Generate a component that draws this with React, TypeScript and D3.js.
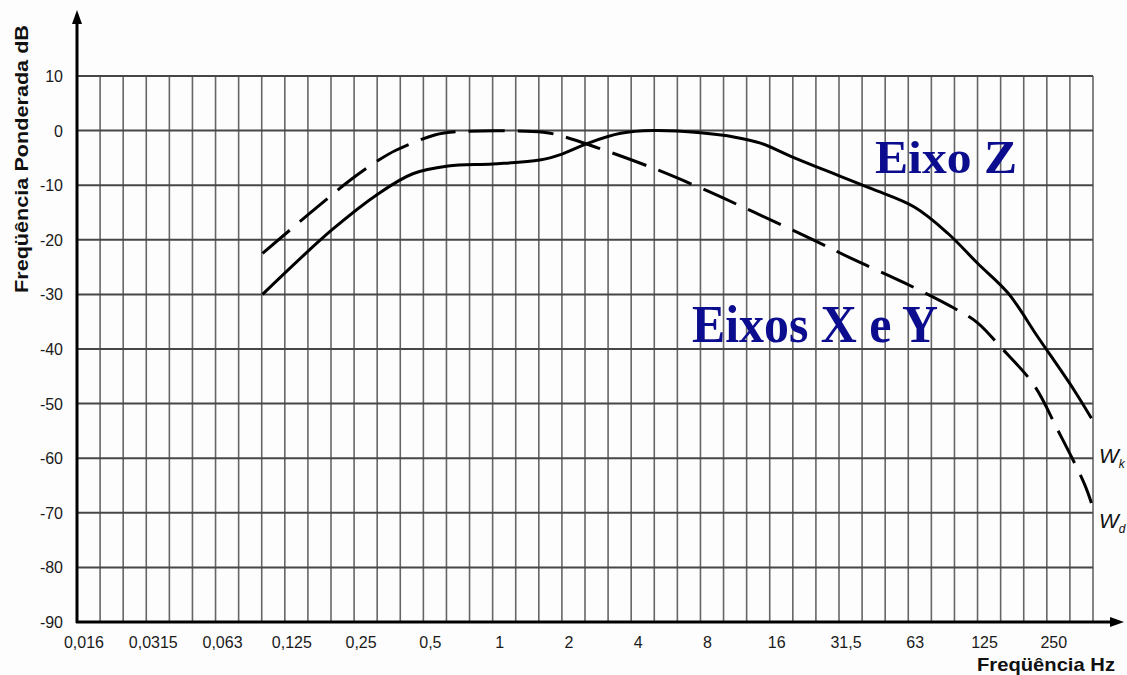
import React, { useRef, useEffect } from 'react';
import * as d3 from 'd3';

// x axis: third-octave grid, labels at each octave
const freqTicks = [1 / 64, 1 / 32, 1 / 16, 1 / 8, 1 / 4, 1 / 2, 1, 2, 4, 8, 16, 32, 64, 128, 256];
const freqTickLabels = ['0,016', '0,0315', '0,063', '0,125', '0,25', '0,5', '1', '2', '4', '8', '16', '31,5', '63', '125', '250'];
const dbTicks = [10, 0, -10, -20, -30, -40, -50, -60, -70, -80, -90];

// Wk (Eixo Z), solid
const wkFreq = [0.1, 0.2, 0.32, 0.45, 0.64, 1, 1.6, 2, 2.6, 3.6, 5, 8, 11.3, 14.6, 20, 28, 44, 68, 95, 128, 174, 234, 336, 400];
const wkDb = [-30, -18.2, -11.5, -7.9, -6.5, -6.1, -5.4, -4.3, -2.3, -0.5, 0, -0.4, -1.2, -2.3, -4.8, -7.3, -10.6, -14, -18.8, -24.3, -29.8, -37.8, -47.5, -52.7];

// Wd (Eixos X e Y), dashed
const wdFreq = [0.1, 0.24, 0.32, 0.38, 0.56, 0.7, 1.66, 2, 2.88, 4.86, 8, 13.6, 25, 37, 61, 101, 128, 161, 225, 286, 372, 400];
const wdDb = [-22.5, -9.1, -5.4, -3.6, -0.8, -0.2, -0.3, -1.0, -3.2, -6.7, -10.5, -14.9, -20.1, -23.6, -27.8, -32.5, -35.2, -39.6, -46.6, -54.9, -64.6, -68.2];

const App = () => {
  const ref = useRef(null);

  useEffect(() => {
    const svg = d3.select(ref.current);
    svg.selectAll('*').remove();

    const x = d3.scaleLog().base(2).domain([2 ** -6, 2 ** (26 / 3)]).range([77, 1093]);
    const y = d3.scaleLinear().domain([-90, 10]).range([622, 76]);

    svg.append('rect').attr('width', 1127).attr('height', 675).attr('fill', '#fdfdfd');

    // vertical grid, one line per third octave
    const thirds = d3.range(-17, 27).map(k => 2 ** (k / 3));
    svg.append('g')
      .selectAll('line')
      .data(thirds)
      .join('line')
      .attr('x1', d => x(d)).attr('x2', d => x(d))
      .attr('y1', y(10)).attr('y2', y(-90))
      .attr('stroke', '#666')
      .attr('stroke-width', 1.6);

    // horizontal grid
    svg.append('g')
      .selectAll('line')
      .data(dbTicks.filter(d => d > -90))
      .join('line')
      .attr('x1', x.range()[0]).attr('x2', x.range()[1])
      .attr('y1', d => y(d)).attr('y2', d => y(d))
      .attr('stroke', '#474747')
      .attr('stroke-width', 2);

    // curves
    const line = d3.line().x(d => x(d[0])).y(d => y(d[1])).curve(d3.curveCatmullRom.alpha(0.5));
    svg.append('path')
      .datum(wkFreq.map((f, i) => [f, wkDb[i]]))
      .attr('fill', 'none')
      .attr('stroke', '#000')
      .attr('stroke-width', 3)
      .attr('d', line);
    svg.append('path')
      .datum(wdFreq.map((f, i) => [f, wdDb[i]]))
      .attr('fill', 'none')
      .attr('stroke', '#000')
      .attr('stroke-width', 3)
      .attr('stroke-dasharray', '36,13')
      .attr('d', line);

    // axes with arrows
    const x0 = x.range()[0];
    const yb = y(-90);
    svg.append('line').attr('x1', x0).attr('x2', x0).attr('y1', yb + 1).attr('y2', 20)
      .attr('stroke', '#000').attr('stroke-width', 3);
    svg.append('path').attr('d', `M${x0 - 5},24 L${x0},10 L${x0 + 5},24 Z`).attr('fill', '#000');
    svg.append('line').attr('x1', x0 - 1).attr('x2', 1114).attr('y1', yb).attr('y2', yb)
      .attr('stroke', '#000').attr('stroke-width', 3);
    svg.append('path').attr('d', `M1110,${yb - 5} L1124,${yb} L1110,${yb + 5} Z`).attr('fill', '#000');

    // tick labels
    svg.append('g')
      .selectAll('text')
      .data(dbTicks)
      .join('text')
      .attr('x', 63)
      .attr('y', d => y(d) + 6)
      .attr('text-anchor', 'end')
      .style('font-family', 'Liberation Sans, Arial, sans-serif')
      .style('font-size', '16px')
      .attr('fill', '#1a1a1a')
      .text(d => d);

    svg.append('g')
      .selectAll('text')
      .data(freqTicks)
      .join('text')
      .attr('x', d => x(d) + 7)
      .attr('y', 648)
      .attr('text-anchor', 'middle')
      .style('font-family', 'Liberation Sans, Arial, sans-serif')
      .style('font-size', '16px')
      .attr('fill', '#1a1a1a')
      .text((d, i) => freqTickLabels[i]);

    // axis titles
    svg.append('text')
      .attr('transform', 'translate(28,159) rotate(-90)')
      .attr('text-anchor', 'middle')
      .attr('textLength', 268)
      .attr('lengthAdjust', 'spacingAndGlyphs')
      .style('font-family', 'Liberation Sans, Arial, sans-serif')
      .style('font-size', '19px')
      .style('font-weight', 'bold')
      .attr('fill', '#111')
      .text('Freqüência Ponderada dB');

    svg.append('text')
      .attr('x', 977)
      .attr('y', 671)
      .attr('textLength', 138)
      .attr('lengthAdjust', 'spacingAndGlyphs')
      .style('font-family', 'Liberation Sans, Arial, sans-serif')
      .style('font-size', '19px')
      .style('font-weight', 'bold')
      .attr('fill', '#111')
      .text('Freqüência Hz');

    // curve names
    const serif = 'Liberation Serif, Times New Roman, serif';
    svg.append('text')
      .attr('x', 875).attr('y', 173)
      .attr('textLength', 142)
      .attr('lengthAdjust', 'spacingAndGlyphs')
      .style('font-family', serif)
      .style('font-size', '47px')
      .style('font-weight', 'bold')
      .attr('fill', '#0c0c8e')
      .text('Eixo Z');
    svg.append('text')
      .attr('x', 692).attr('y', 342)
      .attr('textLength', 246)
      .attr('lengthAdjust', 'spacingAndGlyphs')
      .style('font-family', serif)
      .style('font-size', '52px')
      .style('font-weight', 'bold')
      .attr('fill', '#0c0c8e')
      .text('Eixos X e Y');

    // W labels at the right edge
    [['k', 463], ['d', 528]].forEach(([sub, yy]) => {
      const t = svg.append('text')
        .attr('x', 1099).attr('y', yy)
        .style('font-family', 'Liberation Sans, Arial, sans-serif')
        .style('font-size', '21px')
        .style('font-style', 'italic')
        .attr('fill', '#111');
      t.append('tspan').text('W');
      t.append('tspan').attr('dy', 5).style('font-size', '12px').text(sub);
    });
  }, []);

  return (
    <svg
      ref={ref}
      width="1127"
      height="675"
      style={{ position: 'absolute', left: 0, top: 0, overflow: 'hidden' }}
    ></svg>
  );
};

export default App;
